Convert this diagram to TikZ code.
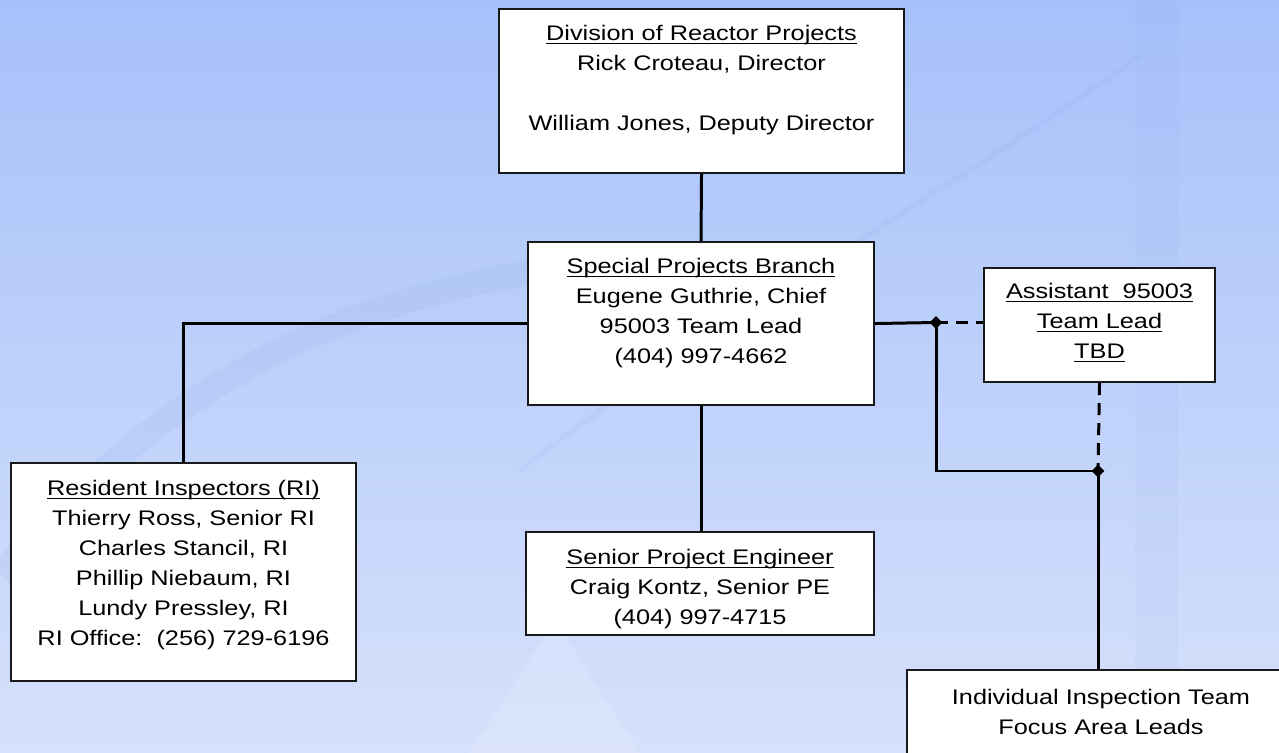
\documentclass[tikz,border=0pt]{standalone}
\usepackage{fontspec}
\setmainfont{Liberation Sans}[FakeStretch=1.2]
\usetikzlibrary{shapes.geometric,calc,positioning}
\definecolor{slidetop}{RGB}{166,193,250}
\definecolor{slidebottom}{RGB}{214,225,251}
\definecolor{swoosh}{RGB}{120,150,215}
\definecolor{glow}{RGB}{235,240,252}
\newcommand{\ulined}[1]{\leavevmode\sbox0{#1}\rlap{\rule[-2.3pt]{\wd0}{0.8pt}}\usebox0}
\newcommand{\boxbody}[4][0.62cm]{\parbox[t][#3][t]{#2}{\centering\rule{0pt}{#1}#4}}
\tikzset{
  orgbox/.style={draw=black!90, line width=1.2pt, fill=white, inner sep=0pt, anchor=north west,
    font=\fontsize{12pt}{17.1pt}\selectfont},
  orgline/.style={line width=1.7pt},
  tbdline/.style={line width=1.7pt, dash pattern=on 0.24cm off 0.16cm},
  junction/.style={diamond, fill=black, inner sep=0pt, minimum size=0.26cm}
}
\begin{document}
\begin{tikzpicture}[x=0.02cm, y=-0.02cm]
            % Slide background
            \useasboundingbox (0,0) rectangle (1279,753);
            \shade[top color=slidetop, bottom color=slidebottom] (0,0) rectangle (1279,753);
            \draw[swoosh, opacity=0.09, line width=0.5cm] (0,575) .. controls (160,390) and (330,300) .. (560,268);
            \draw[swoosh, opacity=0.08, line width=0.12cm] (1140,55) .. controls (1000,160) and (700,330) .. (520,470);
            \fill[swoosh, opacity=0.05] (1135,0) rectangle (1178,753);
            \fill[glow, opacity=0.25] (470,753) -- (555,620) -- (640,753) -- cycle;
            % Draw the boxes
            \node[orgbox] (div) at (498,8) {\boxbody{8.1cm}{3.28cm}{\ulined{Division of Reactor Projects}\\
              Rick Croteau, Director\\ \mbox{}\\ William Jones, Deputy Director}};
            \node[orgbox] (spb) at (527,241) {\boxbody{6.92cm}{3.26cm}{\ulined{Special Projects Branch}\\
              Eugene Guthrie, Chief\\ 95003 Team Lead\\ (404) 997-4662}};
            \node[orgbox] (asst) at (983,267) {\boxbody[0.6cm]{4.62cm}{2.28cm}{\ulined{Assistant\ \ 95003}\\
              \ulined{Team Lead}\\ \ulined{TBD}}};
            \node[orgbox] (ri) at (10,462) {\boxbody[0.64cm]{6.9cm}{4.36cm}{\ulined{Resident Inspectors (RI)}\\
              Thierry Ross, Senior RI\\ Charles Stancil, RI\\ Phillip Niebaum, RI\\ Lundy Pressley, RI\\
              RI Office:\ \ (256) 729-6196}};
            \node[orgbox] (spe) at (525,531) {\boxbody[0.64cm]{6.96cm}{2.06cm}{\ulined{Senior Project Engineer}\\
              Craig Kontz, Senior PE\\ (404) 997-4715}};
            \node[orgbox] (ind) at (906,669) {\boxbody[0.68cm]{7.76cm}{2.4cm}{Individual Inspection Team\\
              Focus Area Leads}};
            % Draw the junction points
            \node[junction] (jA) at (936,322.5) {};
            \node[junction] (jB) at (1098,471) {};
            % Draw connecting lines
            \draw[orgline] (div.south) -- (spb.north);
            \draw[orgline] (spb.west) -| (ri.north);
            \draw[orgline] (spb.south) -- (spb.south |- spe.north);
            \draw[orgline] (spb.east) -- (jA.center);
            \draw[tbdline] (jA.center) -- (jA -| asst.west);
            \draw[orgline] (jA.center) |- (jB.center);
            \draw[tbdline] (asst.south) -- (jB.center);
            \draw[orgline] (jB.center) -- (jB |- ind.north);
        \end{tikzpicture}
\end{document}
